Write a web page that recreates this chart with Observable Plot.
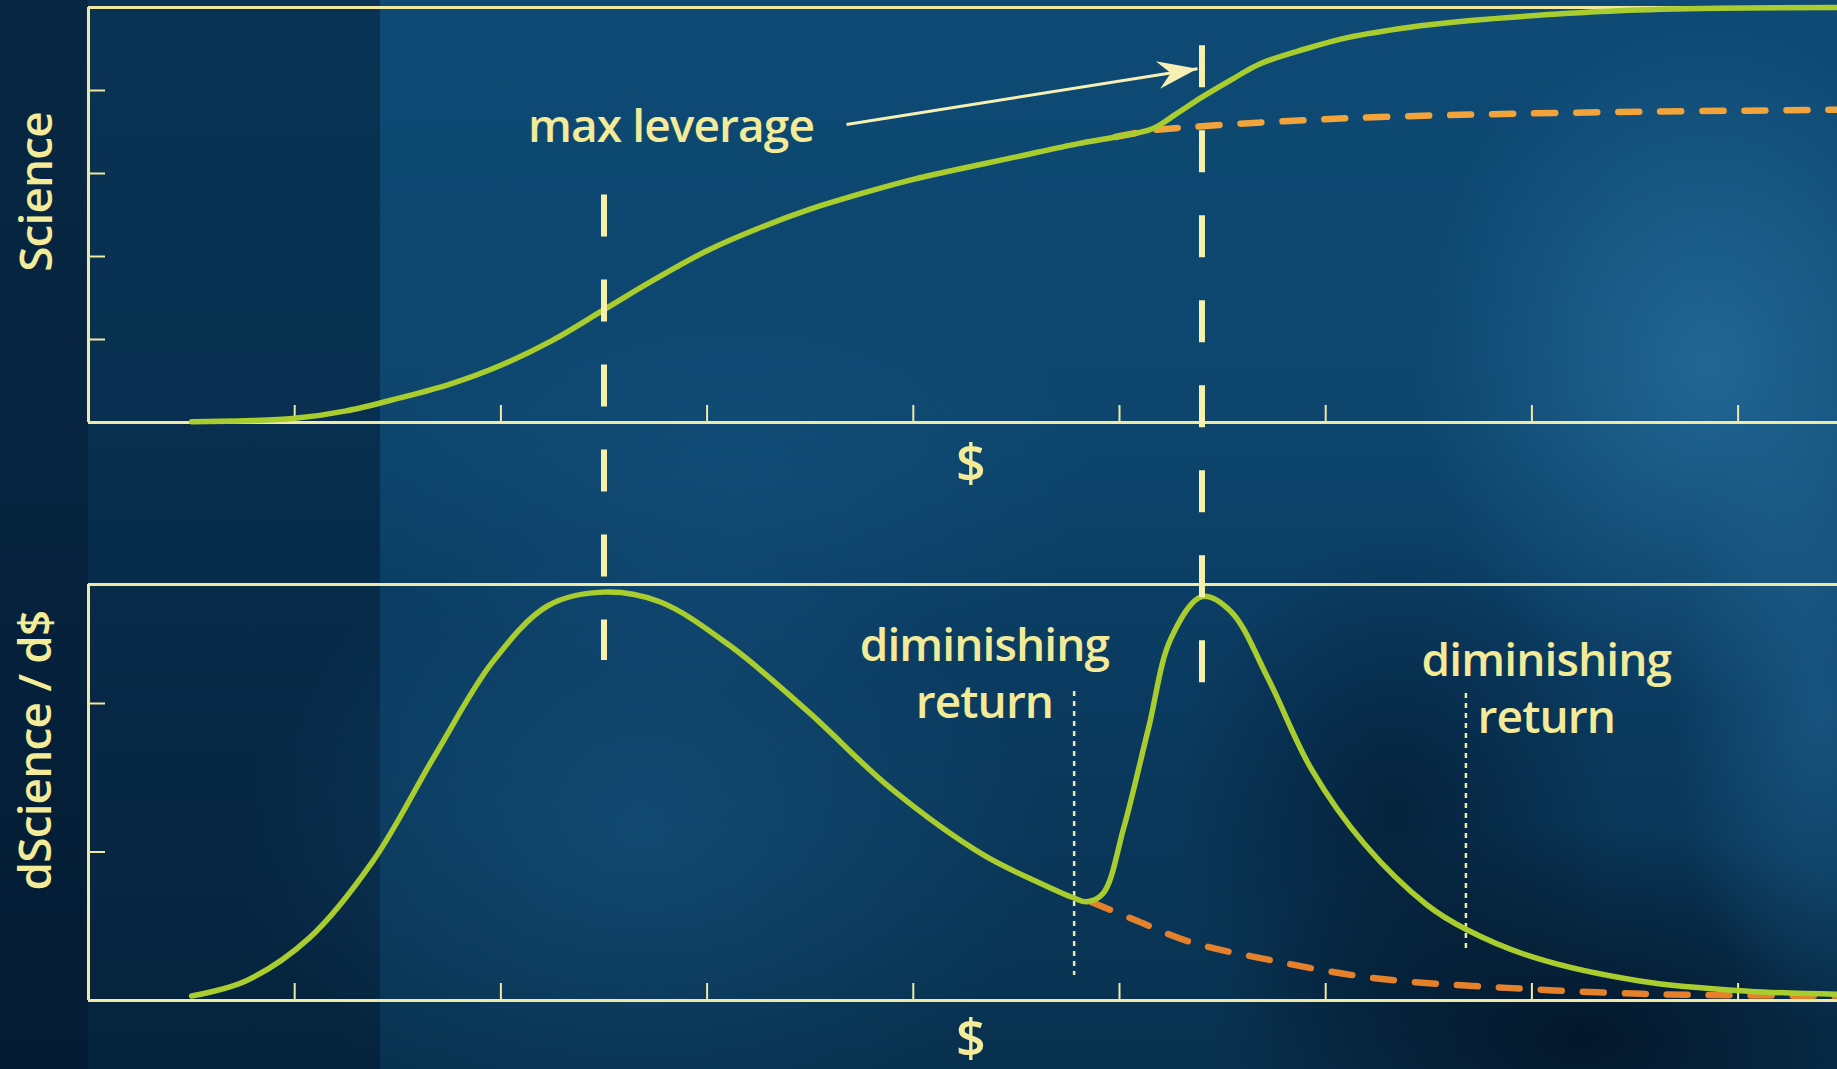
<!DOCTYPE html>
<html>
<head>
<meta charset="utf-8">
<script src="https://cdn.jsdelivr.net/npm/d3@7"></script>
<script src="https://cdn.jsdelivr.net/npm/@observablehq/plot@0.6"></script>
<style>
html, body { margin: 0; padding: 0; width: 1837px; height: 1069px; overflow: hidden; }
body {
  font-family: "Open Sans", sans-serif;
  background:
    radial-gradient(ellipse 16% 32% at 93% 34%, rgba(50,130,180,0.55), rgba(50,130,180,0) 100%),
    radial-gradient(ellipse 8% 30% at 99% 66%, rgba(40,115,165,0.45), rgba(40,115,165,0) 100%),
    radial-gradient(ellipse 22% 28% at 35% 78%, rgba(35,110,160,0.32), rgba(35,110,160,0) 100%),
    radial-gradient(ellipse 20% 20% at 86% 97%, rgba(2,14,30,0.75), rgba(2,14,30,0) 100%),
    radial-gradient(ellipse 12% 26% at 76% 76%, rgba(2,20,40,0.6), rgba(2,20,40,0) 100%),
    radial-gradient(ellipse 20% 20% at 40% 45%, rgba(30,100,150,0.25), rgba(30,100,150,0) 100%),
    linear-gradient(rgba(0,12,30,0.38), rgba(0,12,30,0.38)) 0 0 / 380px 100% no-repeat,
    linear-gradient(rgba(0,12,30,0.3), rgba(0,12,30,0.3)) 0 0 / 88px 100% no-repeat,
    linear-gradient(180deg, #0e4a74 0%, #0d456d 40%, #0b3c62 60%, #08314f 100%);
}
#chart > svg { display: block; }
#chart text { letter-spacing: -0.9px; }
</style>
</head>
<body>
<div id="chart"></div>
<script>
// ---------- data ----------
const xTicks = [1, 2, 3, 4, 5, 6, 7, 8];
const sciTicks = [1, 2, 3, 4];
const dsciTicks = [1, 2];

// Science vs $ (green, with second step)
const sciX = [0.5, 0.75, 1.0, 1.25, 1.5, 1.75, 2.0, 2.25, 2.5, 2.75, 3.0, 3.25, 3.5, 3.75, 4.0, 4.5, 4.8, 4.98, 5.16, 5.27, 5.4, 5.55, 5.68, 5.9, 6.11, 6.4, 6.69, 7.0, 7.42, 7.9, 8.56];
const sciY = [0.01, 0.02, 0.05, 0.14, 0.29, 0.46, 0.69, 0.99, 1.36, 1.73, 2.07, 2.34, 2.57, 2.76, 2.93, 3.2, 3.36, 3.44, 3.54, 3.71, 3.92, 4.14, 4.32, 4.5, 4.64, 4.76, 4.84, 4.9, 4.96, 4.99, 5.0];
// Science without second investment (orange dashed)
const sciAltX = [4.98, 5.16, 5.4, 5.8, 6.26, 7.13, 8.56];
const sciAltY = [3.44, 3.52, 3.57, 3.63, 3.68, 3.73, 3.77];

// dScience / d$ (green)
const dsciX = [0.5, 0.76, 1.07, 1.38, 1.68, 1.96, 2.23, 2.5, 2.77, 3.11, 3.49, 3.89, 4.34, 4.6, 4.78, 4.84, 4.92, 5.02, 5.14, 5.25, 5.4, 5.54, 5.72, 5.93, 6.19, 6.49, 6.68, 7.01, 7.53, 8.05, 8.56];
const dsciY = [0.03, 0.13, 0.42, 0.94, 1.65, 2.28, 2.66, 2.75, 2.685, 2.39, 1.945, 1.43, 0.98, 0.8, 0.69, 0.665, 0.72, 1.16, 1.83, 2.44, 2.72, 2.62, 2.17, 1.56, 1.05, 0.645, 0.48, 0.29, 0.13, 0.063, 0.04];
// dScience / d$ without second investment (orange dashed)
const dsciAltX = [4.86, 5.07, 5.33, 5.72, 6.24, 6.88, 7.53, 8.0, 8.56];
const dsciAltY = [0.665, 0.545, 0.40, 0.275, 0.15, 0.085, 0.045, 0.035, 0.03];

// annotations
const leverageX = [2.5, 5.4];            // max leverage lines
const leverageTopStart = [2.74, 4.54];    // top of the dashed lines (Science units)
const leverageBottomEnd = [2.29, 2.108];  // bottom end (dScience units)
const diminishX = [4.78, 6.68];           // diminishing return markers
const diminishY1 = [2.08, 2.067];
const diminishY2 = [0.168, 0.343];
const diminishLabelX = [4.345, 7.07];
const diminishLabelY = [2.22, 2.118];
const diminishText = ["diminishing\nreturn", "diminishing\nreturn"];
const leverLabel = {x: 2.825, y: 3.563, text: "max leverage"};
const arrowFrom = [3.676, 3.59];
const arrowTo = [5.378, 4.262];

// ---------- styling ----------
const pale = "#efe9a3";
const textCol = "#f3eb98";
const green = "#a9cd2e";
const orangeTop = "#f2a43a";
const orangeBottom = "#e4812a";
const W = 1852, LEFT = 88;
const font = "Open Sans";
const curve = "catmull-rom";

const sci = sciX.map((x, i) => ({x, y: sciY[i]}));
const sciAlt = sciAltX.map((x, i) => ({x, y: sciAltY[i]}));
const dsci = dsciX.map((x, i) => ({x, y: dsciY[i]}));
const dsciAlt = dsciAltX.map((x, i) => ({x, y: dsciAltY[i]}));

// ---------- top panel ----------
const topH = 500, topMT = 7, topMB = 78;
const topYdomain = [0, 5];
const topYscale = d3.scaleLinear().domain(topYdomain).range([topH - topMB, topMT]);
const topEdge = topYscale.invert(topH);
const xUnit = 206.2;
const xDomain = [0, (W - LEFT) / xUnit];

const dxPix = (arrowTo[0] - arrowFrom[0]) * xUnit;
const dyPix = topYscale(arrowTo[1]) - topYscale(arrowFrom[1]);
const arrowAngle = Math.atan2(dyPix, dxPix) * 180 / Math.PI;

const arrowHead = {
  draw(ctx) {
    ctx.moveTo(0, 0);
    ctx.lineTo(-40, -14);
    ctx.lineTo(-27, 0);
    ctx.lineTo(-40, 14);
    ctx.closePath();
  }
};

const common = {
  width: W,
  marginLeft: LEFT,
  marginRight: 0,
  style: {background: "transparent", maxWidth: "none", fontFamily: font, overflow: "visible"},
};

const topPlot = Plot.plot({
  ...common,
  height: topH,
  marginTop: topMT,
  marginBottom: topMB,
  x: {domain: xDomain},
  y: {domain: topYdomain},
  marks: [
    Plot.axisX({ticks: xTicks, tickSize: -17, tickFormat: () => "", label: null, stroke: pale, strokeWidth: 2}),
    Plot.axisY({ticks: sciTicks, tickSize: -17, tickFormat: () => "", label: null, stroke: pale, strokeWidth: 2}),
    Plot.ruleY([0, 5], {stroke: pale, strokeWidth: 3}),
    Plot.ruleX([0], {stroke: pale, strokeWidth: 3}),
    Plot.line(sciAlt, {x: "x", y: "y", stroke: orangeTop, strokeWidth: 6.5, strokeDasharray: "21,21", curve}),
    Plot.line(sci, {x: "x", y: "y", stroke: green, strokeWidth: 5.5, curve}),
    Plot.ruleX(leverageX.map((x, i) => ({x, y1: leverageTopStart[i], y2: topEdge})),
      {x: "x", y1: "y1", y2: "y2", stroke: "#f6f0aa", strokeWidth: 6, strokeDasharray: "42,43"}),
    Plot.link([{x1: arrowFrom[0], y1: arrowFrom[1], x2: arrowTo[0], y2: arrowTo[1]}],
      {x1: "x1", y1: "y1", x2: "x2", y2: "y2", stroke: "#f6f0b4", strokeWidth: 3}),
    Plot.dot([{x: arrowTo[0], y: arrowTo[1]}],
      {x: "x", y: "y", symbol: arrowHead, fill: "#f6f0b4", stroke: "none", rotate: arrowAngle}),
    Plot.text([leverLabel], {x: "x", y: "y", text: "text", fill: textCol, fontSize: 46, fontWeight: 600, fontFamily: font, textAnchor: "middle", lineAnchor: "middle"}),
    Plot.text(["Science"], {text: d => d, frameAnchor: "left", dx: -51, dy: -23, rotate: -90, fill: textCol, fontSize: 46, fontWeight: 600, fontFamily: font, textAnchor: "middle", lineAnchor: "middle"}),
    Plot.text(["$"], {text: d => d, frameAnchor: "bottom", dy: 43, fill: textCol, fontSize: 52, fontWeight: 600, fontFamily: font, textAnchor: "middle", lineAnchor: "middle"})
  ]
});

// ---------- bottom panel ----------
const botH = 569, botMT = 84, botMB = 69;
const botYdomain = [0, (botH - botMT - botMB) / 148.5];
const botYscale = d3.scaleLinear().domain(botYdomain).range([botH - botMB, botMT]);
const botEdge = botYscale.invert(0);
const period = 85;
const leverOffsets = leverageTopStart.map(v => ((topH - topYscale(v)) % period));

const bottomPlot = Plot.plot({
  ...common,
  height: botH,
  marginTop: botMT,
  marginBottom: botMB,
  x: {domain: xDomain},
  y: {domain: botYdomain},
  marks: [
    Plot.axisX({ticks: xTicks, tickSize: -17, tickFormat: () => "", label: null, stroke: pale, strokeWidth: 2}),
    Plot.axisY({ticks: dsciTicks, tickSize: -17, tickFormat: () => "", label: null, stroke: pale, strokeWidth: 2}),
    Plot.ruleY([0, botYdomain[1]], {stroke: pale, strokeWidth: 3}),
    Plot.ruleX([0], {stroke: pale, strokeWidth: 3}),
    Plot.ruleX(diminishX.map((x, i) => ({x, y1: diminishY1[i], y2: diminishY2[i]})),
      {x: "x", y1: "y1", y2: "y2", stroke: pale, strokeWidth: 2.5, strokeDasharray: "5,5"}),
    Plot.line(dsciAlt, {x: "x", y: "y", stroke: orangeBottom, strokeWidth: 6.5, strokeDasharray: "21,21", curve}),
    Plot.line(dsci, {x: "x", y: "y", stroke: green, strokeWidth: 5.5, curve}),
    ...leverageX.map((x, i) => Plot.ruleX([{x, y1: botEdge, y2: leverageBottomEnd[i]}],
      {x: "x", y1: "y1", y2: "y2", stroke: "#f6f0aa", strokeWidth: 6, strokeDasharray: "42,43", strokeDashoffset: leverOffsets[i]})),
    Plot.text(diminishLabelX.map((x, i) => ({x, y: diminishLabelY[i], t: diminishText[i]})),
      {x: "x", y: "y", text: "t", fill: textCol, fontSize: 46, fontWeight: 600, fontFamily: font, lineHeight: 1.24, textAnchor: "middle", lineAnchor: "middle"}),
    Plot.text(["dScience / d$"], {text: d => d, frameAnchor: "left", dx: -52, dy: -42, rotate: -90, fill: textCol, fontSize: 46, fontWeight: 600, fontFamily: font, textAnchor: "middle", lineAnchor: "middle"}),
    Plot.text(["$"], {text: d => d, frameAnchor: "bottom", dy: 40, fill: textCol, fontSize: 52, fontWeight: 600, fontFamily: font, textAnchor: "middle", lineAnchor: "middle"})
  ]
});

const chart = document.getElementById("chart");
chart.appendChild(topPlot);
chart.appendChild(bottomPlot);
</script>
</body>
</html>
